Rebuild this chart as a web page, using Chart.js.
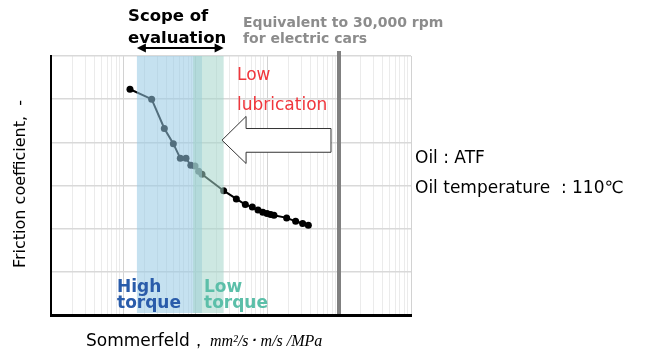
<!DOCTYPE html>
<html>
<head>
<meta charset="utf-8">
<script src="https://cdn.jsdelivr.net/npm/chart.js@4.4.1/dist/chart.umd.min.js"></script>
<style>
  html, body { margin: 0; padding: 0; background: #fff; }
  #wrap { width: 646px; height: 351px; }
</style>
</head>
<body>
<div id="wrap"><canvas id="myChart" width="646" height="351"></canvas></div>
<script>
// Sommerfeld number (log axis, arbitrary units) vs friction coefficient (no scale shown)
var sommerfeld = [12.5, 25, 37.5, 50, 62.5, 75, 87.5, 100, 112.5, 125, 250, 375, 500, 625, 750, 875, 1000, 1125, 1250, 1875, 2500, 3125, 3750];
var friction = [5.23, 5.0, 4.32, 3.97, 3.63, 3.63, 3.47, 3.45, 3.33, 3.26, 2.88, 2.69, 2.56, 2.5, 2.43, 2.38, 2.35, 2.33, 2.31, 2.25, 2.17, 2.12, 2.08];

var highTorqueRange = [15.6, 125];
var lowTorqueRange = [94, 250];
var rpmLimit = 10000;   // "Equivalent to 30,000 rpm"

// hollow arrow pointing left: tip, back of head, tail (x), centre / shaft / head half-heights (y)
var arrowX = [237, 512, 7740];
var arrowY = [4.05, 4.32, 3.77, 4.6, 3.51];

var ctx = document.getElementById('myChart').getContext('2d');

function logTicks(min, max) {
  var out = [];
  for (var e = Math.log10(min); e < Math.log10(max); e++) {
    for (var m = 1; m < 10; m++) out.push({ value: m * Math.pow(10, e), major: m === 1 });
  }
  out.push({ value: max, major: true });
  return out;
}

var overlay = {
  id: 'overlay',
  afterDatasetsDraw: function (chart) {
    var c = chart.ctx, a = chart.chartArea, x = chart.scales.x;
    c.save();
    c.fillStyle = 'rgba(150,200,228,0.55)';
    var x0 = x.getPixelForValue(highTorqueRange[0]), x1 = x.getPixelForValue(highTorqueRange[1]);
    c.fillRect(x0, a.top, x1 - x0, a.bottom - a.top - 2);
    c.fillStyle = 'rgba(164,213,202,0.55)';
    x0 = x.getPixelForValue(lowTorqueRange[0]); x1 = x.getPixelForValue(lowTorqueRange[1]);
    c.fillRect(x0, a.top, x1 - x0, a.bottom - a.top - 2);
    c.restore();
  },
  afterDraw: function (chart) {
    var c = chart.ctx, a = chart.chartArea, x = chart.scales.x, y = chart.scales.y;
    c.save();

    // 30,000 rpm marker
    var gx = x.getPixelForValue(rpmLimit);
    c.strokeStyle = '#808080';
    c.lineWidth = 4;
    c.beginPath(); c.moveTo(gx, 51); c.lineTo(gx, a.bottom - 1); c.stroke();

    // scope of evaluation double arrow
    var sx0 = x.getPixelForValue(highTorqueRange[0]), sx1 = x.getPixelForValue(lowTorqueRange[1]);
    var sy = 48;
    c.strokeStyle = '#000'; c.fillStyle = '#000'; c.lineWidth = 2;
    c.beginPath(); c.moveTo(sx0 + 4, sy); c.lineTo(sx1 - 4, sy); c.stroke();
    c.beginPath(); c.moveTo(sx0, sy); c.lineTo(sx0 + 9, sy - 4.5); c.lineTo(sx0 + 9, sy + 4.5); c.closePath(); c.fill();
    c.beginPath(); c.moveTo(sx1, sy); c.lineTo(sx1 - 9, sy - 4.5); c.lineTo(sx1 - 9, sy + 4.5); c.closePath(); c.fill();

    // hollow arrow
    var tip = x.getPixelForValue(arrowX[0]), back = x.getPixelForValue(arrowX[1]), tail = x.getPixelForValue(arrowX[2]);
    var cy = y.getPixelForValue(arrowY[0]), st = y.getPixelForValue(arrowY[1]), sb = y.getPixelForValue(arrowY[2]);
    var ht = y.getPixelForValue(arrowY[3]), hb = y.getPixelForValue(arrowY[4]);
    c.beginPath();
    c.moveTo(tip, cy); c.lineTo(back, ht); c.lineTo(back, st); c.lineTo(tail, st);
    c.lineTo(tail, sb); c.lineTo(back, sb); c.lineTo(back, hb); c.closePath();
    c.fillStyle = '#fff'; c.fill();
    c.strokeStyle = '#333'; c.lineWidth = 1; c.stroke();

    // texts
    c.textBaseline = 'alphabetic';
    c.textAlign = 'left';
    c.fillStyle = '#000';
    c.font = 'bold 16.5px "DejaVu Sans"';
    c.fillText('Scope of', 128, 21);
    c.fillText('evaluation', 128, 43);

    c.fillStyle = '#8c8c8c';
    c.font = 'bold 14px "DejaVu Sans"';
    c.fillText('Equivalent to 30,000 rpm', 243, 27);
    c.fillText('for electric cars', 243, 43);

    c.fillStyle = '#f0363c';
    c.font = '17px "DejaVu Sans"';
    c.fillText('Low', 237, 80);
    c.fillText('lubrication', 237, 110);

    c.font = 'bold 17px "DejaVu Sans"';
    c.fillStyle = '#2a5caa';
    c.fillText('High', 117, 292);
    c.fillText('torque', 117, 308);
    c.fillStyle = '#5cbfa9';
    c.fillText('Low', 204, 292);
    c.fillText('torque', 204, 308);

    c.fillStyle = '#000';
    c.font = '17px "DejaVu Sans"';
    c.fillText('Oil : ATF', 415, 163);
    c.fillText('Oil temperature  : 110\u2103', 415, 193);

    c.font = '17px "DejaVu Sans"';
    c.fillText('Sommerfeld\uFF0C', 86, 346);
    c.font = 'italic 16px "Liberation Serif"';
    c.fillText('mm\u00B2/s\uFF65 m/s /MPa', 210, 346);

    c.translate(25, 184);
    c.rotate(-Math.PI / 2);
    c.textAlign = 'center';
    c.font = '16px "DejaVu Sans"';
    c.fillText('Friction coefficient,  -', 0, 0);

    c.restore();
  }
};

var myChart = new Chart(ctx, {
  type: 'line',
  data: {
    datasets: [{
      data: sommerfeld.map(function (v, i) { return { x: v, y: friction[i] }; }),
      borderColor: '#000',
      backgroundColor: '#000',
      borderWidth: 2,
      pointRadius: 3.5,
      pointBackgroundColor: '#000',
      pointBorderWidth: 0,
      tension: 0
    }]
  },
  options: {
    responsive: false,
    animation: false,
    devicePixelRatio: 1,
    layout: { padding: { left: 51, right: 235, top: 56, bottom: 36 } },
    plugins: { legend: { display: false }, tooltip: { enabled: false } },
    scales: {
      x: {
        type: 'logarithmic',
        min: 1,
        max: 100000,
        afterBuildTicks: function (scale) { scale.ticks = logTicks(1, 100000); },
        ticks: { display: false },
        grid: {
          drawTicks: false,
          lineWidth: 1,
          color: function (c) { return c.tick && c.tick.major ? '#d2d2d2' : '#ebebeb'; }
        },
        border: { color: '#000', width: 3 }
      },
      y: {
        min: 0,
        max: 6,
        ticks: { display: false, stepSize: 1 },
        grid: { drawTicks: false, color: '#d9d9d9', lineWidth: 1.5 },
        border: { color: '#000', width: 2 }
      }
    }
  },
  plugins: [overlay]
});
</script>
</body>
</html>
